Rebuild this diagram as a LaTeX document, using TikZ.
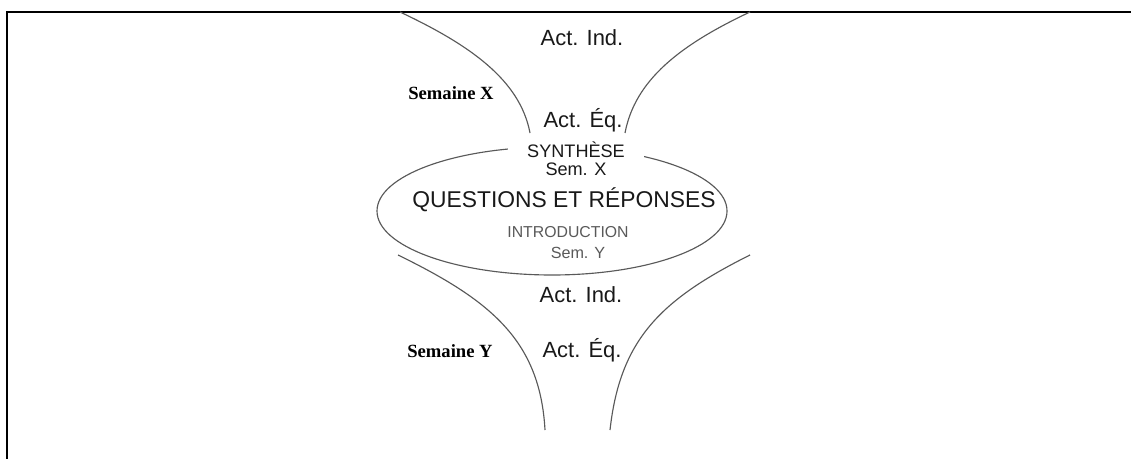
\documentclass[tikz,border=0pt]{standalone}
\usepackage{fontspec}
\setsansfont{Liberation Sans}
\newfontfamily\weekfont{Liberation Serif}
\usetikzlibrary{positioning}

\begin{document}
\begin{tikzpicture}[x=0.02cm, y=-0.02cm,
  funnel/.style={draw=black!65, line width=0.65pt},
  txt/.style={inner sep=0pt, anchor=base, font=\sffamily\fontsize{12.5}{15}\selectfont, text=black!90},
  small/.style={inner sep=0pt, anchor=base, font=\sffamily\fontsize{10.3}{12}\selectfont, text=black!90},
  faint/.style={inner sep=0pt, anchor=base, font=\sffamily\fontsize{9.2}{11}\selectfont, text=black!65},
  week/.style={inner sep=0pt, anchor=base, font=\weekfont\bfseries\fontsize{10.6}{12}\selectfont}]
\useasboundingbox (0,0) rectangle (1131,459);
% frame
\draw[line width=1.7pt] (7,459) -- (7,12) -- (1131,12);

% upper funnel (week X)
\draw[funnel] (400,12) .. controls (470,45) and (520,80) .. (530,133);
\draw[funnel] (750,12) .. controls (680,45) and (635,80) .. (625,133);
% lower funnel (week Y)
\draw[funnel] (398,255) .. controls (490,300) and (540,340) .. (545,430);
\draw[funnel] (750,255) .. controls (660,300) and (620,340) .. (610,430);
% meeting ellipse
\draw[funnel] (552,211) ellipse [x radius=175, y radius=64];

\node[txt] (ActIndX) at (582,46) {Act. Ind.};
\node[txt] (ActEqX) at (583,128) {Act. Éq.};
\node[small, fill=white, inner xsep=11pt, inner ysep=2pt] (Synth) at (576,157) {SYNTHÈSE};
\node[small] (SemX) at (576,175) {Sem. X};
\node[txt, font=\sffamily\fontsize{13}{15}\selectfont] (QR) at (564,207) {QUESTIONS ET RÉPONSES};
\node[faint, font=\sffamily\fontsize{9}{11}\selectfont] (Intro) at (568,237) {INTRODUCTION};
\node[faint] (SemY) at (578,258) {Sem. Y};
\node[txt] (ActIndY) at (581,302) {Act. Ind.};
\node[txt] (ActEqY) at (582,357) {Act. Éq.};

\node[week] (WeekX) at (451,100) {Semaine X};
\node[week] (WeekY) at (450,357) {Semaine Y};
\end{tikzpicture}
\end{document}
